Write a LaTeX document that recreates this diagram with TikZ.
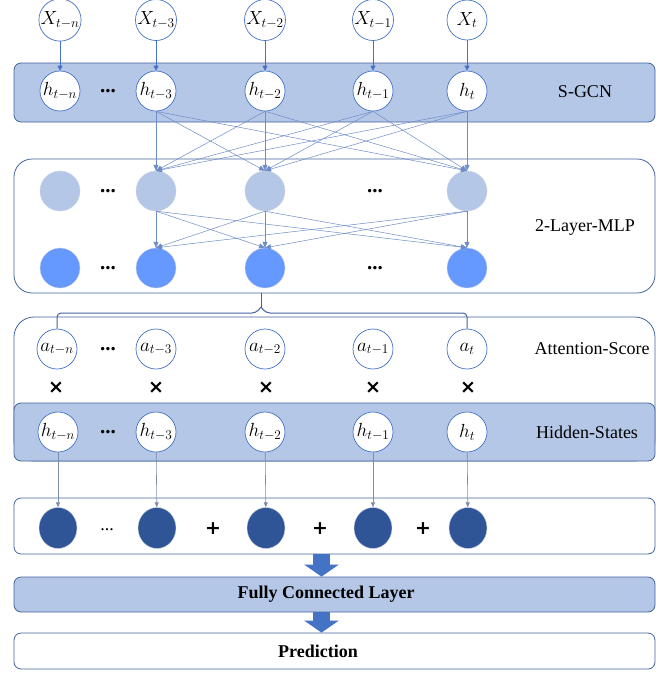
\RequirePackage{fix-cm}
\documentclass[tikz,border=0pt]{standalone}
\usepackage{fontspec}
\setmainfont{Liberation Serif}
\newfontfamily\symbolfont{DejaVu Sans}
\usepackage{amsmath}
\usetikzlibrary{shapes,arrows.meta,positioning}
\definecolor{layerblue}{RGB}{180,199,231}
\definecolor{frameblue}{RGB}{68,100,158}
\definecolor{nodeblue}{RGB}{68,114,196}
\definecolor{meshblue}{RGB}{110,140,200}
\definecolor{grayblue}{RGB}{125,140,170}
\definecolor{unitrim}{RGB}{205,212,225}
\definecolor{unitblue}{RGB}{102,153,255}
\definecolor{darkblue}{RGB}{47,85,151}
\definecolor{arrowblue}{RGB}{68,114,196}
\tikzset{
    % Layer frame styles
    bluebox/.style={
        rectangle, draw=frameblue, fill=layerblue, line width=0.8pt,
        minimum width=641pt, inner sep=0pt,
        rounded corners=7pt
    },
    whitebox/.style={
        rectangle, draw=frameblue, fill=white, line width=0.8pt,
        minimum width=641pt, inner sep=0pt,
        rounded corners=7pt
    },
    % Neuron styles
    varnode/.style={
        circle, draw=nodeblue, fill=white, line width=0.7pt,
        minimum size=40pt, inner sep=0pt,
        font=\fontsize{19}{21}\selectfont
    },
    lightunit/.style={
        circle, draw=unitrim, fill=layerblue,
        minimum size=40pt, inner sep=0pt
    },
    midunit/.style={
        circle, draw=unitrim, fill=unitblue,
        minimum size=40pt, inner sep=0pt
    },
    darkunit/.style={
        ellipse, draw=unitrim, fill=darkblue,
        minimum width=38pt, minimum height=41pt, inner sep=0pt
    },
    % Text styles
    layername/.style={font=\fontsize{18}{20}\selectfont},
    boldname/.style={font=\fontsize{18}{20}\selectfont\bfseries},
    gapdots/.style={font=\fontsize{21}{23}\selectfont\bfseries},
    opsign/.style={font=\symbolfont\bfseries\fontsize{19}{21}\selectfont},
    % Connector styles
    feed/.style={draw=nodeblue, line width=1pt, -{Triangle[length=5pt,width=5pt]}},
    mesh/.style={draw=meshblue, line width=0.5pt, -{Triangle[length=6pt,width=5pt]}},
    readout/.style={draw=grayblue, line width=0.6pt, -{Triangle[length=5pt,width=4pt]}},
    braceline/.style={draw=frameblue, line width=1pt, rounded corners=4pt},
    blockarrow/.style={draw=arrowblue, line width=17pt, -{Triangle[length=12pt,width=34pt]}}
}

\begin{document}
\begin{tikzpicture}[x=1pt,y=-1pt]
\useasboundingbox (0,0) rectangle (671,673);

% Layer frames
\node[bluebox, minimum height=59pt] (sgcn) at (334.5,92.5) {};
\node[whitebox, rounded corners=18pt, minimum height=134pt] (mlp) at (334.5,226) {};
\node[whitebox, rounded corners=20pt, minimum height=144pt] (attn) at (334.5,389) {};
\node[bluebox, minimum height=58pt] (hidden) at (334.5,432) {};
\node[whitebox, minimum height=56pt] (sum) at (334.5,526) {};
\node[bluebox, minimum height=35pt] (fc) at (334.5,594.5) {};
\node[whitebox, minimum height=36pt] (pred) at (334.5,651) {};

% Layer names
\node[layername] (sgcnname) at (585,92) {S-GCN};
\node[layername] (mlpname) at (585,227) {2-Layer-MLP};
\node[layername] (attnname) at (592,349) {Attention-Score};
\node[layername] (hiddenname) at (587,432) {Hidden-States};
\node[boldname] (fcname) at (326,594) {Fully Connected Layer};
\node[boldname] (predname) at (318,651) {Prediction};

% Inputs
\node[varnode] (xn) at (60,20) {$X_{t-n}$};
\node[varnode] (x3) at (156,20) {$X_{t-3}$};
\node[varnode] (x2) at (265,20) {$X_{t-2}$};
\node[varnode] (x1) at (373,20) {$X_{t-1}$};
\node[varnode] (x0) at (467,20) {$X_{t}$};

% S-GCN states
\node[varnode] (gn) at (60,91) {$h_{t-n}$};
\node[gapdots] (gdots) at (108,91) {...};
\node[varnode] (g3) at (156,91) {$h_{t-3}$};
\node[varnode] (g2) at (265,91) {$h_{t-2}$};
\node[varnode] (g1) at (373,91) {$h_{t-1}$};
\node[varnode] (g0) at (467,91) {$h_{t}$};

% MLP units
\node[lightunit] (ln) at (60,191) {};
\node[gapdots] (ldotsa) at (108,191) {...};
\node[lightunit] (l3) at (156,191) {};
\node[lightunit] (l2) at (265,191) {};
\node[gapdots] (ldotsb) at (375,191) {...};
\node[lightunit] (l0) at (467,191) {};
\node[midunit] (mn) at (60,268) {};
\node[gapdots] (mdotsa) at (108,268) {...};
\node[midunit] (m3) at (156,268) {};
\node[midunit] (m2) at (265,268) {};
\node[gapdots] (mdotsb) at (375,268) {...};
\node[midunit] (m0) at (467,268) {};

% Attention scores
\node[varnode] (an) at (57,349) {$a_{t-n}$};
\node[gapdots] (adots) at (108,349) {...};
\node[varnode] (a3) at (156,349) {$a_{t-3}$};
\node[varnode] (a2) at (265,349) {$a_{t-2}$};
\node[varnode] (a1) at (373,349) {$a_{t-1}$};
\node[varnode] (a0) at (467,349) {$a_{t}$};

% Products
\node[opsign] (timesn) at (56,388) {×};
\node[opsign] (times3) at (156,388) {×};
\node[opsign] (times2) at (266,388) {×};
\node[opsign] (times1) at (373,388) {×};
\node[opsign] (times0) at (468,388) {×};

% Hidden states
\node[varnode] (hn) at (58,432) {$h_{t-n}$};
\node[gapdots] (hdots) at (108,432) {...};
\node[varnode] (h3) at (156,432) {$h_{t-3}$};
\node[varnode] (h2) at (265,432) {$h_{t-2}$};
\node[varnode] (h1) at (373,432) {$h_{t-1}$};
\node[varnode] (h0) at (467,432) {$h_{t}$};

% Weighted sum
\node[darkunit] (sn) at (58,528) {};
\node[layername] (sdots) at (107,530) {...};
\node[darkunit] (s3) at (157,528) {};
\node[opsign] (plusa) at (213,529) {+};
\node[darkunit] (s2) at (266,528) {};
\node[opsign] (plusb) at (320,529) {+};
\node[darkunit] (s1) at (373,528) {};
\node[opsign] (plusc) at (423,529) {+};
\node[darkunit] (s0) at (468,528) {};

% Input feeds
\draw[feed] (xn) -- (gn);
\draw[feed] (x3) -- (g3);
\draw[feed] (x2) -- (g2);
\draw[feed] (x1) -- (g1);
\draw[feed] (x0) -- (g0);

% Dense connections
\foreach \src in {g3,g2,g1,g0}
    \foreach \dst in {l3,l2,l0}
        \draw[mesh] (\src.south) -- (\dst.north);
\foreach \src in {l3,l2,l0}
    \foreach \dst in {m3,m2,m0}
        \draw[mesh] (\src.south) -- (\dst.north);

% Scores brace
\coordinate (mlpout) at (261,293);
\coordinate (bracetip) at (261,307);
\draw[braceline] (mlpout) -- (bracetip);
\draw[braceline] (an.north) |- ([xshift=-5pt,yshift=-6pt]bracetip) -- (bracetip);
\draw[braceline] (a0.north) |- ([xshift=5pt,yshift=-6pt]bracetip) -- (bracetip);

% Readout
\draw[readout] (hn) -- (sn);
\draw[readout] (h3) -- (s3);
\draw[readout] (h2) -- (s2);
\draw[readout] (h1) -- (s1);
\draw[readout] (h0) -- (s0);

% Block arrows
\draw[blockarrow] ([xshift=-13pt]sum.south) -- ([xshift=-13pt]fc.north);
\draw[blockarrow] ([xshift=-13pt]fc.south) -- ([xshift=-13pt]pred.north);

\end{tikzpicture}
\end{document}
